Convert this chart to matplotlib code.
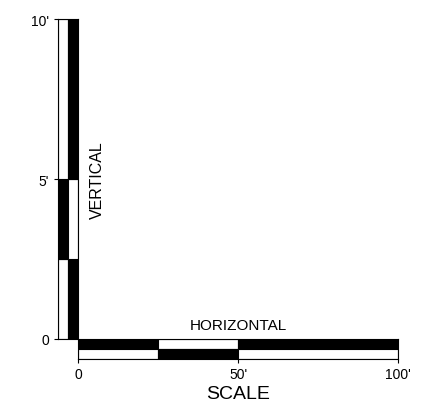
import matplotlib
matplotlib.use("Agg")
import matplotlib.pyplot as plt

plt.rcParams['font.family'] = ['Liberation Sans', 'DejaVu Sans']

# vertical scale (feet): segment edges and colours for the two columns
v_edges = [0, 2.5, 5, 10]
v_left_colors = ['white', 'black', 'white']
v_right_colors = ['black', 'white', 'black']
v_ticks = [0, 5, 10]
v_tick_labels = ['0', "5'", "10'"]

# horizontal scale (feet): segment edges and colours for the two rows
h_edges = [0, 25, 50, 100]
h_top_colors = ['black', 'white', 'black']
h_bottom_colors = ['white', 'black', 'white']
h_ticks = [0, 50, 100]
h_tick_labels = ['0', "50'", "100'"]

W, H = 426, 414
fig = plt.figure(figsize=(W / 100, H / 100), dpi=100)

# vertical bar
ax_v = fig.add_axes([58 / W, (H - 340) / H, 20 / W, 320 / H])
for i in range(len(v_edges) - 1):
    lo, hi = v_edges[i], v_edges[i + 1]
    ax_v.bar(0.5, hi - lo, width=1, bottom=lo, color=v_left_colors[i],
             edgecolor='black', linewidth=0.8)
    ax_v.bar(1.5, hi - lo, width=1, bottom=lo, color=v_right_colors[i],
             edgecolor='black', linewidth=0.8)
ax_v.set_xlim(0, 2)
ax_v.set_ylim(0, 10)
ax_v.set_xticks([])
ax_v.set_yticks(v_ticks)
ax_v.set_yticklabels(v_tick_labels, fontsize=10)
ax_v.tick_params(axis='y', length=3, width=0.8, pad=3.5)
for s in ax_v.spines.values():
    s.set_linewidth(0.8)
ax_v.text(1.95, 0.5, 'VERTICAL', rotation=90, transform=ax_v.transAxes,
          ha='center', va='center', fontsize=11.5)

# horizontal bar
ax_h = fig.add_axes([78 / W, (H - 360) / H, 320 / W, 20 / H])
for i in range(len(h_edges) - 1):
    lo, hi = h_edges[i], h_edges[i + 1]
    ax_h.barh(1.5, hi - lo, height=1, left=lo, color=h_top_colors[i],
              edgecolor='black', linewidth=0.8)
    ax_h.barh(0.5, hi - lo, height=1, left=lo, color=h_bottom_colors[i],
              edgecolor='black', linewidth=0.8)
ax_h.set_xlim(0, 100)
ax_h.set_ylim(0, 2)
ax_h.set_yticks([])
ax_h.set_xticks(h_ticks)
ax_h.set_xticklabels(h_tick_labels, fontsize=10)
ax_h.tick_params(axis='x', length=3, width=0.8, pad=3)
for s in ax_h.spines.values():
    s.set_linewidth(0.8)
ax_h.set_xlabel('SCALE', fontsize=14, labelpad=3)
ax_h.text(0.5, 1.72, 'HORIZONTAL', transform=ax_h.transAxes,
          ha='center', va='center', fontsize=11)

fig.savefig('out.png', dpi=100)
